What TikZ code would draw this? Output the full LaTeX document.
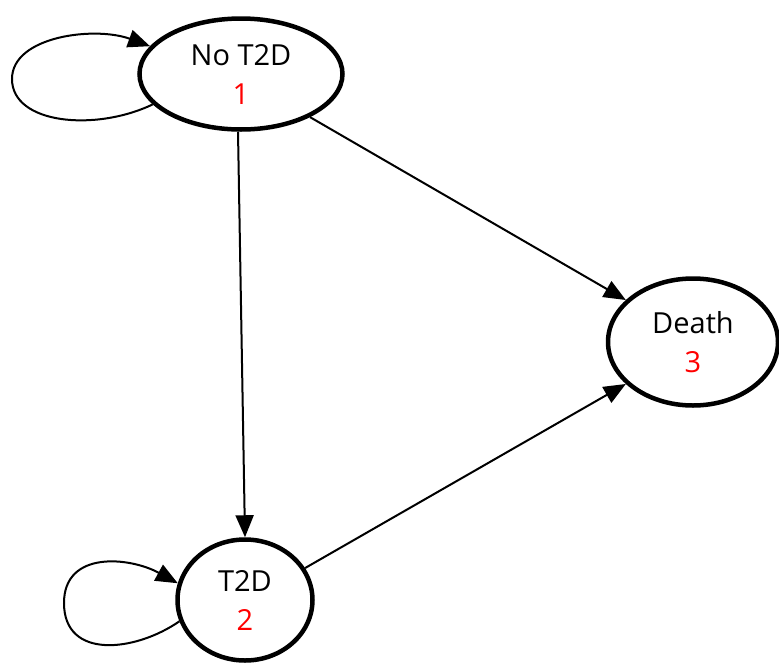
\documentclass[tikz,border=0pt]{standalone}
\usepackage{fontspec}
\setmainfont{Open Sans}
\usetikzlibrary{shapes.geometric,arrows.meta}
\begin{document}
\begin{tikzpicture}[x=1pt,y=-1pt,
  state/.style={ellipse,draw,line width=4.5pt,inner sep=0pt,align=center,
    font=\fontsize{29}{39}\selectfont},
  trans/.style={line width=2pt,-{Triangle[length=22pt,width=18pt]}},
  loopline/.style={line width=2pt,-{Triangle[length=22pt,width=18pt]}}]
\useasboundingbox (0,0) rectangle (779,667);
\node[state,minimum width=203pt,minimum height=111pt] (n1) at (241,74) {No T2D\\\textcolor{red}{1}};
\node[state,minimum width=170pt,minimum height=127pt] (n3) at (693,342) {Death\\\textcolor{red}{3}};
\node[state,minimum width=135pt,minimum height=121pt] (n2) at (245,600) {T2D\\\textcolor{red}{2}};
\draw[trans] (n1.south) ++(-3,0) -- (n2.north);
\draw[trans] (n1.-32) -- (n3.148);
\draw[trans] (n2.28) -- (n3.212);
\draw[loopline] (n1.199) .. controls (95,132) and (12,124) .. (12,79)
  .. controls (12,36) and (95,26) .. (n1.163);
\draw[loopline] (n2.198) .. controls (135,652) and (64,660) .. (64,603)
  .. controls (64,550) and (130,557) .. (n2.166);
\end{tikzpicture}
\end{document}
